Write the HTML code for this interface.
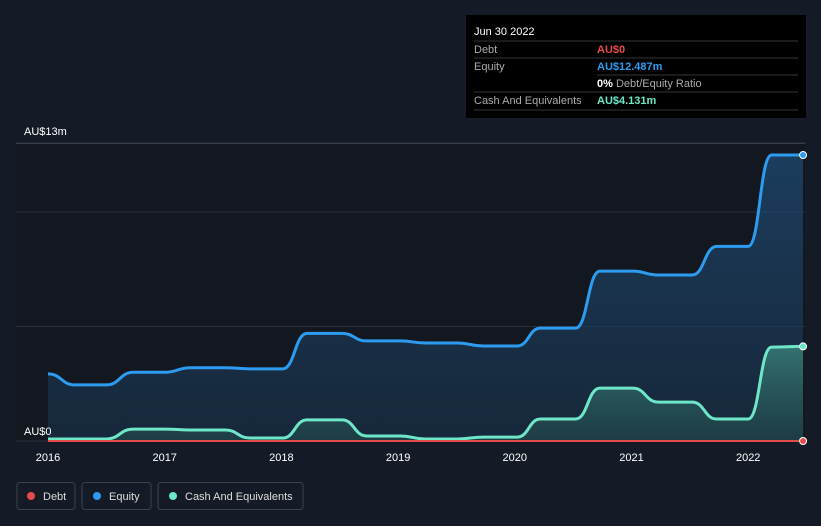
<!DOCTYPE html>
<html><head><meta charset="utf-8"><style>
body{margin:0;background:#151b26;font-family:"Liberation Sans",sans-serif;}
svg{display:block}
</style></head><body>
<svg width="821" height="526" viewBox="0 0 821 526">
<defs>
<linearGradient id="eqg" x1="0" y1="0" x2="0" y2="1"><stop offset="0" stop-color="#1f4a72" stop-opacity="0.75"/><stop offset="1" stop-color="#1a3550" stop-opacity="0.55"/></linearGradient>
<linearGradient id="cag" x1="0" y1="0" x2="0" y2="1"><stop offset="0" stop-color="#3f8f84" stop-opacity="0.7"/><stop offset="1" stop-color="#24504f" stop-opacity="0.5"/></linearGradient>
</defs>
<rect x="0" y="0" width="821" height="526" fill="#151b26"/>
<rect x="16" y="143" width="789" height="298" fill="#121720"/>
<g id="grid"></g>
<g id="areas"></g>
<g id="lines"></g>
<g id="xaxis"></g>
<text x="24" y="135" fill="#fff" font-size="11">AU$13m</text>
<text x="24" y="435" fill="#fff" font-size="11">AU$0</text>
<g>
<rect x="466" y="15" width="340" height="103" fill="#000"/>
<text x="474" y="35" fill="#fff" font-size="11">Jun 30 2022</text>
<line x1="474" y1="41" x2="798" y2="41" stroke="#333"/>
<text x="474" y="53" fill="#aaa" font-size="11">Debt</text><text x="597" y="53" fill="#e64b4b" font-size="11" font-weight="bold">AU$0</text>
<line x1="474" y1="58" x2="798" y2="58" stroke="#333"/>
<text x="474" y="70" fill="#aaa" font-size="11">Equity</text><text x="597" y="70" fill="#2d9cf0" font-size="11" font-weight="bold">AU$12.487m</text>
<line x1="597" y1="75" x2="798" y2="75" stroke="#333"/>
<text x="597" y="87" fill="#aaa" font-size="11"><tspan fill="#fff" font-weight="bold">0%</tspan> Debt/Equity Ratio</text>
<line x1="474" y1="92" x2="798" y2="92" stroke="#333"/>
<text x="474" y="104" fill="#aaa" font-size="11">Cash And Equivalents</text><text x="597" y="104" fill="#6ee6c8" font-size="11" font-weight="bold">AU$4.131m</text>
<line x1="474" y1="110" x2="798" y2="110" stroke="#333"/>
</g>
<g>
<g><rect x="17" y="482.5" width="58" height="27" rx="3" fill="none" stroke="#3a414d"/><circle cx="31" cy="496" r="4" fill="#e64b4b"/><text x="43" y="500" fill="#ddd" font-size="11">Debt</text></g>
<g><rect x="82" y="482.5" width="69" height="27" rx="3" fill="none" stroke="#3a414d"/><circle cx="97" cy="496" r="4" fill="#2d9cf0"/><text x="109" y="500" fill="#ddd" font-size="11">Equity</text></g>
<g><rect x="158" y="482.5" width="145" height="27" rx="3" fill="none" stroke="#3a414d"/><circle cx="173" cy="496" r="4" fill="#6ee6c8"/><text x="185" y="500" fill="#ddd" font-size="11">Cash And Equivalents</text></g>
</g>
</svg>
<script>
const dates=[2016.0,2016.23,2016.5,2016.73,2017.0,2017.22,2017.52,2017.73,2018.01,2018.22,2018.52,2018.73,2019.02,2019.23,2019.51,2019.73,2020.02,2020.22,2020.52,2020.73,2021.01,2021.23,2021.52,2021.73,2022.0,2022.2,2022.47];
const equity=[2.93,2.45,2.45,3.0,3.0,3.2,3.2,3.15,3.15,4.7,4.7,4.37,4.37,4.28,4.28,4.15,4.15,4.93,4.93,7.42,7.42,7.25,7.25,8.5,8.5,12.487,12.487];
const cash=[0.09,0.09,0.09,0.52,0.52,0.48,0.48,0.13,0.13,0.92,0.92,0.22,0.22,0.09,0.09,0.17,0.17,0.96,0.96,2.31,2.31,1.7,1.7,0.96,0.96,4.1,4.131];
const debt=dates.map(()=>0);
const yearTicks=[2016,2017,2018,2019,2020,2021,2022];
const yTicks=[0,5,10,13];
const NS="http://www.w3.org/2000/svg";
const X=t=>48+(t-2016)*116.7, Y=v=>441-v*22.9;
function mk(tag,attrs,parent){const e=document.createElementNS(NS,tag);for(const k in attrs)e.setAttribute(k,attrs[k]);document.getElementById(parent).appendChild(e);return e;}
function path(vals){let d="M"+X(dates[0])+","+Y(vals[0]);for(let i=1;i<dates.length;i++){const x0=X(dates[i-1]),x1=X(dates[i]),m=(x0+x1)/2;d+=" C"+m+","+Y(vals[i-1])+" "+m+","+Y(vals[i])+" "+x1+","+Y(vals[i]);}return d;}
yTicks.forEach(v=>{const l=mk("line",{x1:16,x2:805,y1:Y(v),y2:Y(v),stroke:v==13?"#444b57":"#2a303b"},"grid");

});
const xe=X(dates[dates.length-1]),xs=X(dates[0]);
[[equity,"url(#eqg)","#2d9cf0","equity"],[cash,"url(#cag)","#6ee6c8","cash"]].forEach(([v,f,c,n])=>{
const a=mk("path",{d:path(v)+" L"+xe+","+Y(0)+" L"+xs+","+Y(0)+"Z",fill:f},"areas");


const l=mk("path",{d:path(v),fill:"none",stroke:c,"stroke-width":3},"lines");


const p=mk("circle",{cx:xe,cy:Y(v[v.length-1]),r:3.5,fill:c,stroke:"#fff","stroke-width":1},"lines");

});
const dl=mk("path",{d:path(debt),fill:"none",stroke:"#e64b4b","stroke-width":2},"lines");


const dp=mk("circle",{cx:xe,cy:Y(0),r:3.5,fill:"#e64b4b",stroke:"#fff","stroke-width":1},"lines");


yearTicks.forEach(y=>{const t=mk("text",{x:X(y),y:461,fill:"#fff","font-size":11,"text-anchor":"middle"},"xaxis");t.textContent=y;

});
</script>
</body></html>
